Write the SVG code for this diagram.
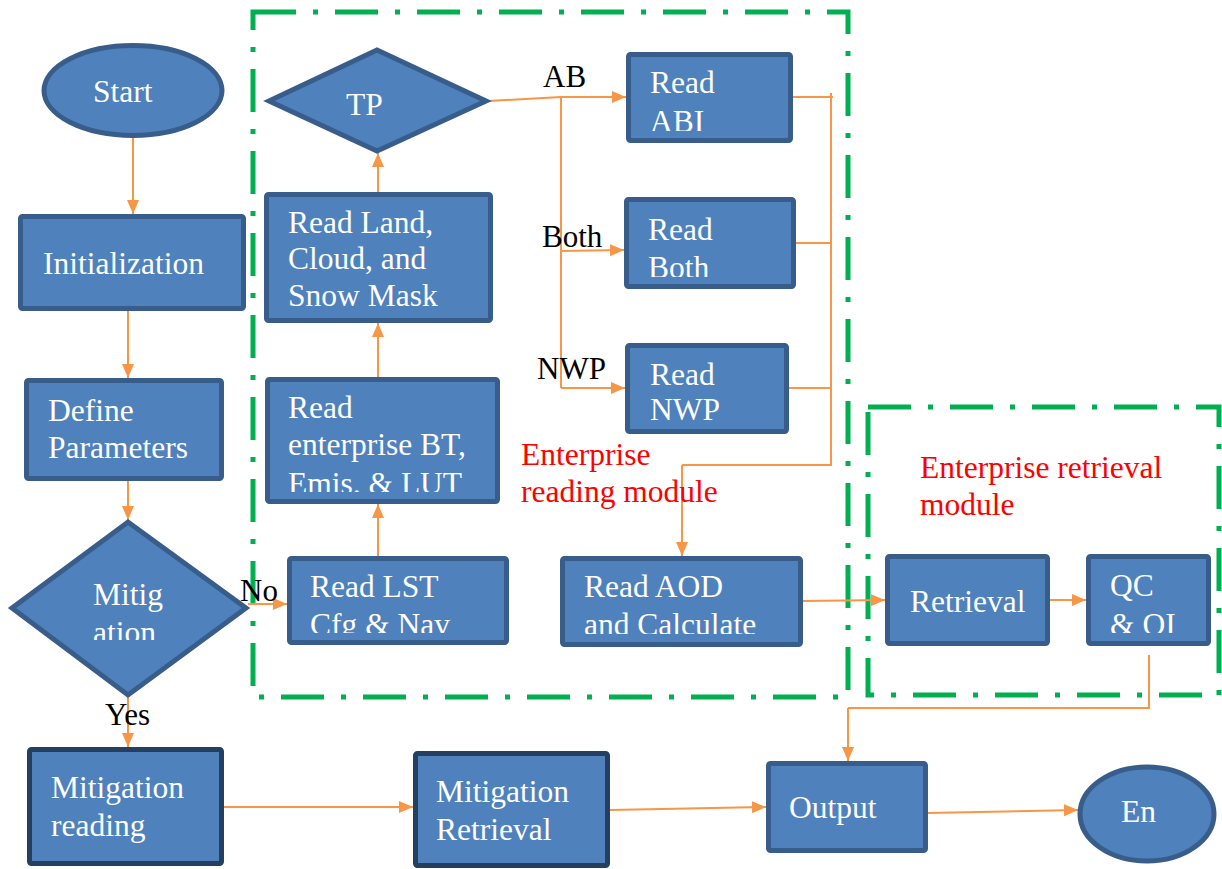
<svg xmlns="http://www.w3.org/2000/svg" width="1222" height="869" viewBox="0 0 1222 869" font-family="'Liberation Serif', 'Times New Roman', serif">
  <style>
    .box { fill: #4F81BD; stroke: #385D8A; stroke-width: 5; }
    .dark { stroke: #243F60; }
    .wt { font-family: 'Liberation Serif', 'Times New Roman', serif; font-size: 31.5px; fill: #FFFFFF; }
    .lbl { font-family: 'Liberation Serif', 'Times New Roman', serif; font-size: 31px; fill: #000000; }
    .red { font-family: 'Liberation Serif', 'Times New Roman', serif; font-size: 31.5px; fill: #FF0000; }
    .c { fill: none; stroke: #F79646; stroke-width: 2; }
    .ca { fill: none; stroke: #F79646; stroke-width: 2; marker-end: url(#ah); }
    .frame { fill: none; stroke: #00B050; stroke-width: 5; stroke-dasharray: 43 17 5 17; }
  </style>
  <defs>
    <marker id="ah" viewBox="0 0 14 12" refX="14" refY="6" markerWidth="14" markerHeight="12" markerUnits="userSpaceOnUse" orient="auto">
      <path d="M0,0 L14,6 L0,12 Z" fill="#F79646"/>
    </marker>
    <!-- text areas cut off at the lower inner edge of their boxes -->
    <clipPath id="clipMit"><rect x="10" y="520" width="240" height="120"/></clipPath>
    <clipPath id="clipLst"><rect x="290" y="560" width="216" height="73"/></clipPath>
    <clipPath id="clipEnt"><rect x="268" y="380" width="230" height="112"/></clipPath>
    <clipPath id="clipAbi"><rect x="629" y="55" width="161" height="76"/></clipPath>
    <clipPath id="clipBoth"><rect x="627" y="200" width="166" height="77"/></clipPath>
    <clipPath id="clipAod"><rect x="563" y="559" width="237" height="75"/></clipPath>
    <clipPath id="clipQc"><rect x="1089" y="557" width="119" height="76"/></clipPath>
  </defs>

  <!-- module frames -->
  <g id="frames">
    <rect class="frame" x="253" y="12" width="595" height="685"/>
    <rect class="frame" x="868" y="407" width="351" height="288"/>
  </g>

  <!-- connectors -->
  <g id="connectors">
    <path class="ca" d="M133,138 L133,214"/>
    <path class="ca" d="M128,311 L128,378"/>
    <path class="ca" d="M128,481 L128,520"/>
    <path class="ca" d="M248,604 L287,604"/>
    <path class="ca" d="M378,556 L378,504"/>
    <path class="ca" d="M378,377 L378,323"/>
    <path class="ca" d="M378,192 L378,153"/>
    <path class="c" d="M488,101 L561,97"/>
    <path class="ca" d="M561,97 L626,97"/>
    <path class="c" d="M561,97 L561,388"/>
    <path class="ca" d="M561,251 L624,250"/>
    <path class="ca" d="M561,388 L625,388"/>
    <path class="c" d="M793,97 L833,97"/>
    <path class="c" d="M796,243 L831,243"/>
    <path class="c" d="M789,388 L831,388"/>
    <path class="c" d="M831,93 L831,465 L682,465"/>
    <path class="ca" d="M682,465 L682,556"/>
    <path class="ca" d="M803,601 L885,600"/>
    <path class="ca" d="M1050,600 L1086,600"/>
    <path class="c" d="M1149,655 L1149,708 L848,708"/>
    <path class="ca" d="M848,708 L848,761"/>
    <path class="ca" d="M128,697 L128,747"/>
    <path class="ca" d="M224,807 L413,807"/>
    <path class="ca" d="M610,810 L766,807"/>
    <path class="ca" d="M928,813 L1078,810"/>
  </g>

  <!-- connector labels -->
  <g id="labels">
    <text class="lbl" x="543" y="87">AB</text>
    <text class="lbl" x="542" y="247">Both</text>
    <text class="lbl" x="537" y="379">NWP</text>
    <text class="lbl" x="240" y="601">No</text>
    <text class="lbl" x="105" y="725">Yes</text>
    <text class="red" x="521" y="465">Enterprise</text>
    <text class="red" x="521" y="502">reading module</text>
    <text class="red" x="920" y="478">Enterprise retrieval</text>
    <text class="red" x="920" y="515">module</text>
  </g>

  <g id="start">
    <ellipse class="box" cx="133" cy="90.5" rx="89" ry="45"/>
    <text class="wt" x="93" y="102">Start</text>
  </g>

  <g id="initialization">
    <rect class="box" x="20.5" y="216.5" width="223" height="92" rx="2"/>
    <text class="wt" x="43" y="274">Initialization</text>
  </g>

  <g id="define-parameters">
    <rect class="box" x="26.5" y="380.5" width="195" height="98" rx="2"/>
    <text class="wt" x="48" y="421">Define</text>
    <text class="wt" x="48" y="458">Parameters</text>
  </g>

  <g id="mitigation">
    <polygon class="box" points="12,608 128,522 246,608 128,695"/>
    <g clip-path="url(#clipMit)">
      <text class="wt" x="93" y="605">Mitig</text>
      <text class="wt" x="93" y="643">ation</text>
    </g>
  </g>

  <g id="read-lst">
    <rect class="box" x="289.5" y="558.5" width="217" height="84" rx="2"/>
    <g clip-path="url(#clipLst)">
      <text class="wt" x="310" y="597">Read LST</text>
      <text class="wt" x="310" y="635">Cfg &amp; Nav</text>
    </g>
  </g>

  <g id="read-enterprise">
    <rect class="box" x="267.5" y="379.5" width="230" height="122" rx="2"/>
    <g clip-path="url(#clipEnt)">
      <text class="wt" x="288" y="418">Read</text>
      <text class="wt" x="288" y="455">enterprise BT,</text>
      <text class="wt" x="288" y="494">Emis. &amp; LUT</text>
    </g>
  </g>

  <g id="read-land">
    <rect class="box" x="266.5" y="194.5" width="224" height="126" rx="2"/>
    <text class="wt" x="288" y="233">Read Land,</text>
    <text class="wt" x="288" y="269">Cloud, and</text>
    <text class="wt" x="288" y="306">Snow Mask</text>
  </g>

  <g id="tp">
    <polygon class="box" points="269,101 377,50 486,101 377,151"/>
    <text class="wt" x="346" y="115">TP</text>
  </g>

  <g id="read-abi">
    <rect class="box" x="628.5" y="54.5" width="162" height="86" rx="2"/>
    <g clip-path="url(#clipAbi)">
      <text class="wt" x="650" y="93">Read</text>
      <text class="wt" x="650" y="132">ABI</text>
    </g>
  </g>

  <g id="read-both">
    <rect class="box" x="626.5" y="199.5" width="167" height="87" rx="2"/>
    <g clip-path="url(#clipBoth)">
      <text class="wt" x="648" y="240">Read</text>
      <text class="wt" x="648" y="278">Both</text>
    </g>
  </g>

  <g id="read-nwp">
    <rect class="box" x="627.5" y="345.5" width="159" height="86" rx="2"/>
    <text class="wt" x="650" y="385">Read</text>
    <text class="wt" x="650" y="420">NWP</text>
  </g>

  <g id="read-aod">
    <rect class="box" x="562.5" y="558.5" width="238" height="86" rx="2"/>
    <g clip-path="url(#clipAod)">
      <text class="wt" x="584" y="597">Read AOD</text>
      <text class="wt" x="584" y="635">and Calculate</text>
    </g>
  </g>

  <g id="retrieval">
    <rect class="box" x="887.5" y="556.5" width="160" height="87" rx="2"/>
    <text class="wt" x="910" y="612">Retrieval</text>
  </g>

  <g id="qc-oi">
    <rect class="box" x="1088.5" y="556.5" width="120" height="87" rx="2"/>
    <g clip-path="url(#clipQc)">
      <text class="wt" x="1110" y="596">QC</text>
      <text class="wt" x="1110" y="635">&amp; OI</text>
    </g>
  </g>

  <g id="mitigation-reading">
    <rect class="box dark" x="29.5" y="749.5" width="192" height="114" rx="2"/>
    <text class="wt" x="51" y="798">Mitigation</text>
    <text class="wt" x="51" y="836">reading</text>
  </g>

  <g id="mitigation-retrieval">
    <rect class="box dark" x="415.5" y="753.5" width="192" height="112" rx="2"/>
    <text class="wt" x="436" y="802">Mitigation</text>
    <text class="wt" x="436" y="840">Retrieval</text>
  </g>

  <g id="output">
    <rect class="box" x="768.5" y="763.5" width="157" height="87" rx="2"/>
    <text class="wt" x="789" y="818">Output</text>
  </g>

  <g id="end">
    <ellipse class="box" cx="1147" cy="814" rx="67" ry="47"/>
    <text class="wt" x="1121" y="822">En</text>
  </g>
</svg>
